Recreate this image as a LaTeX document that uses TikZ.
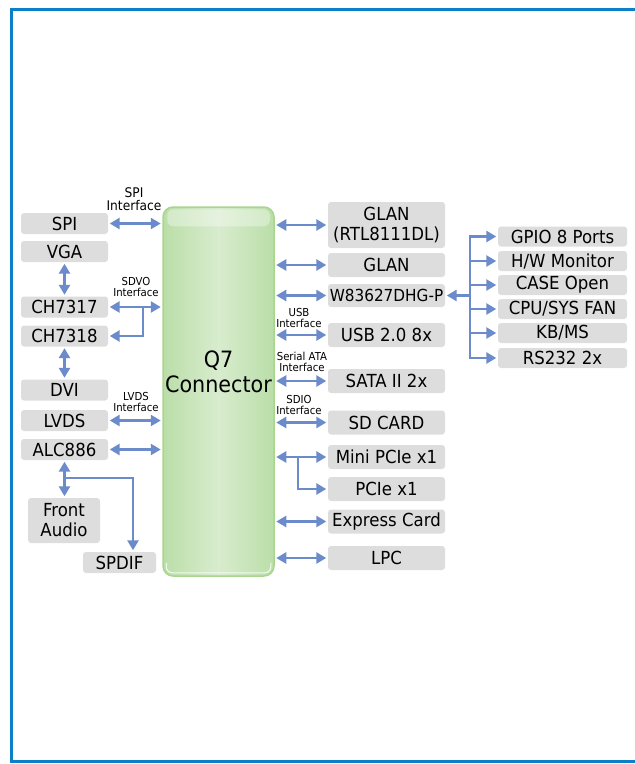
\documentclass[tikz,border=0pt]{standalone}
\usepackage{fontspec}
\setmainfont{DejaVu Sans}[FakeStretch=0.92]
\usepackage{tikz}
\usepackage{xcolor}
\usetikzlibrary{shapes,arrows,arrows.meta,positioning}
\definecolor{boxgray}{RGB}{221,221,221}
\definecolor{arrblue}{RGB}{107,139,203}
\definecolor{frameblue}{RGB}{12,128,198}
\definecolor{qgreen}{RGB}{168,214,142}
\definecolor{qlight}{RGB}{216,236,206}
\definecolor{qmid}{RGB}{186,222,168}
\newcommand{\ifl}[1]{#1\\Interface}

\tikzset{
  blk/.style={fill=boxgray, rounded corners=3pt, inner sep=0pt, align=center,
    font=\fontsize{18}{20}\selectfont},
  lcol/.style={blk, minimum width=87pt, minimum height=21pt},
  rcol/.style={blk, minimum width=117pt, minimum height=24pt},
  fcol/.style={blk, minimum width=129pt, minimum height=20pt},
  lbl/.style={inner sep=0pt, align=center, font=\fontsize{11}{11}\selectfont},
  q7box/.style={draw=qgreen, line width=1.5pt, rounded corners=10pt,
    left color=qmid, right color=qmid, middle color=qlight},
  arr/.style={draw=arrblue, line width=2.5pt, -{Triangle[length=10pt,width=11pt]}, shorten >=1.5pt},
  biarr/.style={arr, {Triangle[length=10pt,width=11pt]}-{Triangle[length=10pt,width=11pt]}, shorten <=1.5pt},
  wire/.style={draw=arrblue, line width=2.5pt, line cap=rect}
}

\begin{document}
\begin{tikzpicture}[x=1pt,y=-1pt]
\useasboundingbox (0,0) rectangle (635,764);

\draw[frameblue, line width=3pt] (636,9) -| (11,761) -- (636,761);

\node[q7box, minimum width=111pt, minimum height=369pt] (q7) at (218.5,391.5) {};
\fill[white, opacity=0.35, rounded corners=6pt] ([xshift=5pt,yshift=-3pt]q7.north west) rectangle ([xshift=-5pt,yshift=-20pt]q7.north east);
\draw[white, opacity=0.8, line width=1pt, rounded corners=6pt] ([xshift=4pt,yshift=14pt]q7.south west) -- ([xshift=4pt,yshift=4pt]q7.south west) -- ([xshift=-4pt,yshift=4pt]q7.south east) -- ([xshift=-4pt,yshift=14pt]q7.south east);
\node[align=center, font=\fontsize{22.5}{25}\selectfont] (q7txt) at (218.5,372) {Q7\\Connector};

\node[lcol] (spi) at (64.5,223.5) {SPI};
\node[lcol] (vga) at (64.5,251.5) {VGA};
\node[lcol] (ch7317) at (64.5,307) {CH7317};
\node[lcol] (ch7318) at (64.5,336) {CH7318};
\node[lcol] (dvi) at (64.5,390) {DVI};
\node[lcol] (lvds) at (64.5,420.5) {LVDS};
\node[lcol] (alc) at (64.5,449.5) {ALC886};
\node[blk, minimum width=72pt, minimum height=45pt] (front) at (64,520.5) {Front\\Audio};
\node[blk, minimum width=73pt, minimum height=21pt] (spdif) at (119.5,562.5) {SPDIF};

\node[rcol, minimum height=46pt] (glan1) at (386.5,225) {GLAN\\(RTL8111DL)};
\node[rcol] (glan2) at (386.5,265) {GLAN};
\node[rcol, minimum height=23pt, font=\fontsize{16.6}{20}\selectfont] (sio) at (386.5,295.5) {W83627DHG-P};
\node[rcol] (usb) at (386.5,335) {USB 2.0 8x};
\node[rcol] (sata) at (386.5,381) {SATA II 2x};
\node[rcol] (sd) at (386.5,422.5) {SD CARD};
\node[rcol] (mpcie) at (386.5,457) {Mini PCIe x1};
\node[rcol] (pcie) at (386.5,489) {PCIe x1};
\node[rcol] (exp) at (386.5,521.5) {Express Card};
\node[rcol] (lpc) at (386.5,558) {LPC};

\node[fcol] (gpio) at (562.5,236.5) {GPIO 8 Ports};
\node[fcol] (hwmon) at (562.5,261) {H/W Monitor};
\node[fcol] (caseo) at (562.5,285) {CASE Open};
\node[fcol] (fan) at (562.5,309) {CPU/SYS FAN};
\node[fcol] (kbms) at (562.5,333) {KB/MS};
\node[fcol] (rs232) at (562.5,358) {RS232 2x};

\node[lbl, font=\fontsize{13.3}{12.5}\selectfont] (spilbl) at (134,199) {\ifl{SPI}};
\node[lbl] (sdvolbl) at (136,287) {\ifl{SDVO}};
\node[lbl] (lvdslbl) at (136,402) {\ifl{LVDS}};
\node[lbl] (usblbl) at (299,318) {\ifl{USB}};
\node[lbl] (satalbl) at (302,362) {\ifl{Serial ATA}};
\node[lbl] (sdiolbl) at (299,405) {\ifl{SDIO}};

\draw[biarr] (spi) -- (spi -| q7.west);

\draw[biarr] (vga) -- (ch7317);

\draw[biarr] (ch7317) -- (ch7317 -| q7.west);

\coordinate (sdvo) at (143,307);
\draw[arr] (sdvo) |- (ch7318.east);

\draw[biarr] (ch7318) -- (dvi);

\draw[biarr] (lvds) -- (lvds -| q7.west);

\draw[biarr] (alc) -- (alc -| q7.west);

\draw[biarr] (alc.south) -- (alc.south |- front.north);

\coordinate (aud) at (64.5,478);
\draw[arr] (aud) -| ([xshift=13.5pt]spdif.north);

\foreach \b in {glan1,glan2,sio,usb,sata,sd,mpcie,exp,lpc}
  \draw[biarr] (\b -| q7.east) -- (\b);

\coordinate (pcibr) at (298,457);
\draw[arr] (pcibr) |- (pcie);

\coordinate (bus) at (470,295.5);
\draw[arr] (bus) -- (sio);
\draw[wire] (bus |- gpio) -- (bus |- rs232);
\foreach \f in {gpio,hwmon,caseo,fan,kbms,rs232}
  \draw[arr] (bus |- \f) -- (\f);
\end{tikzpicture}
\end{document}
